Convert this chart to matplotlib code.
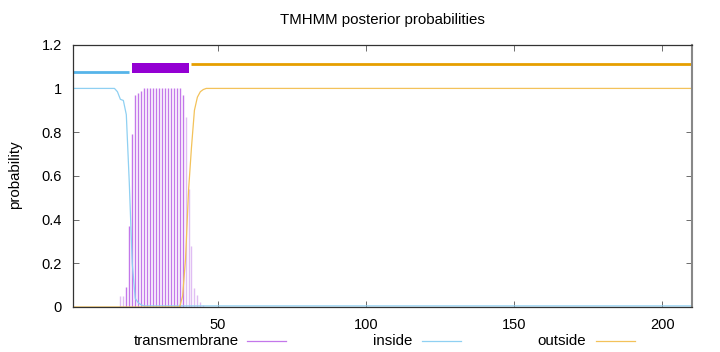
"""TMHMM posterior probability plot, gnuplot look."""
import matplotlib
matplotlib.use('Agg')
import matplotlib.pyplot as plt
from matplotlib.lines import Line2D

plt.rcParams['font.family'] = ['Liberation Sans', 'DejaVu Sans']

SEQ_LEN = 210

# posterior of "inside" (breakpoints, residue -> prob)
inside_x = [1, 15, 16, 17, 18, 19, 20, 21, 22, 23, 24, 25, 210]
inside_p = [1.0, 1.0, 0.985, 0.95, 0.945, 0.88, 0.57, 0.20, 0.04, 0.02, 0.01, 0.005, 0.005]

# posterior of "outside"
outside_x = [1, 37, 38, 39, 40, 41, 42, 43, 44, 45, 46, 210]
outside_p = [0.0, 0.0, 0.05, 0.22, 0.53, 0.73, 0.90, 0.96, 0.985, 0.995, 1.0, 1.0]

# posterior of "transmembrane" per residue (impulses)
tm_x = list(range(17, 46))
tm_p = [0.05, 0.05, 0.09, 0.37, 0.79, 0.97, 0.98, 0.99,
        1.0, 1.0, 1.0, 1.0, 1.0, 1.0, 1.0, 1.0, 1.0, 1.0, 1.0, 1.0, 1.0,
        0.97, 0.87, 0.54, 0.28, 0.085, 0.055, 0.025, 0.01]
tm_strong = (19, 38)  # residues drawn in the saturated colour

# predicted topology segments
inside_seg = (1, 20)
tm_seg = (21, 40)
outside_seg = (41, 210)

C_IN, C_IN_L = '#56b4e9', '#8fd0f2'
C_TM, C_TM_M, C_TM_L = '#9400d3', '#c377ea', '#e0bdf3'
C_OUT, C_OUT_L = '#e69f00', '#f3c25a'

FS = 10.8

fig = plt.figure(figsize=(7.2, 3.52), dpi=100)
W, H = 720, 352
ax = fig.add_axes([73 / W, 1 - 307 / H, (692 - 73) / W, (307 - 44.7) / H])

for x, p in zip(tm_x, tm_p):
    col = C_TM_M if tm_strong[0] <= x <= tm_strong[1] else C_TM_L
    ax.vlines(x, 0, p, color=col, lw=1.0)

ax.plot(inside_x, inside_p, color=C_IN_L, lw=0.9)
ax.plot(outside_x, outside_p, color=C_OUT_L, lw=0.9)

ax.plot(inside_seg, [1.075, 1.075], color=C_IN, lw=2.0, solid_capstyle='butt')
ax.fill_between(tm_seg, 1.069, 1.115, color=C_TM, lw=0)
ax.plot(outside_seg, [1.112, 1.112], color=C_OUT, lw=2.0, solid_capstyle='butt')

ax.set_xlim(1, SEQ_LEN)
ax.set_ylim(0, 1.2)
ax.set_xticks([50, 100, 150, 200])
ax.set_yticks([0, 0.2, 0.4, 0.6, 0.8, 1.0, 1.2])
ax.set_yticklabels(['0', '0.2', '0.4', '0.6', '0.8', '1', '1.2'])
ax.tick_params(direction='in', length=4, width=0.6, color='#555555',
               labelsize=FS - 0.3, top=True, right=True, pad=8)
ax.tick_params(axis='x', pad=8)
for side in ['left', 'top', 'bottom']:
    ax.spines[side].set_color('#333333')
    ax.spines[side].set_linewidth(0.9)
ax.spines['right'].set_color('#888888')
ax.spines['right'].set_linewidth(1.5)

fig.text(382 / W, 1 - 20 / H, 'TMHMM posterior probabilities', ha='center', va='center', fontsize=FS)
fig.text(15 / W, 1 - 175 / H, 'probability', rotation=90, ha='center', va='center', fontsize=FS)

# gnuplot-style key under the plot
key = [('transmembrane', C_TM_M, 239, 247), ('inside', C_IN_L, 412, 422), ('outside', C_OUT_L, 586, 596)]
ky = 1 - 341 / H
for label, col, tx, lx in key:
    fig.text(tx / W, ky, label, ha='right', va='center', fontsize=FS)
    fig.add_artist(Line2D([lx / W, (lx + 39) / W], [ky, ky], color=col, lw=0.9))

fig.savefig('out.png', dpi=100)
